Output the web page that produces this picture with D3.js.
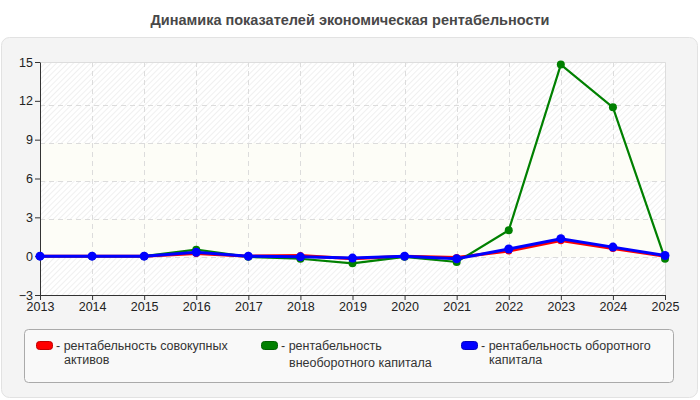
<!DOCTYPE html>
<html>
<head>
<meta charset="utf-8">
<script src="https://cdn.jsdelivr.net/npm/d3@7"></script>
<style>
  body { margin: 0; background: #fff; font-family: "Liberation Sans", Arial, sans-serif; }
  .tick text { font-size: 12.5px; fill: #222; font-family: "Liberation Sans", Arial, sans-serif; }
</style>
</head>
<body>
<div id="chart"></div>
<script>
// data
var years = [2013, 2014, 2015, 2016, 2017, 2018, 2019, 2020, 2021, 2022, 2023, 2024, 2025];
var assetsRent = [0, 0, 0, 0.2, 0, 0.05, -0.2, 0, -0.1, 0.4, 1.2, 0.6, 0];
var fixedCapRent = [0, 0, 0, 0.5, -0.05, -0.2, -0.55, -0.05, -0.45, 2.0, 14.8, 11.5, -0.2];
var workCapRent = [0, 0, 0, 0.3, 0, -0.05, -0.15, 0, -0.2, 0.55, 1.35, 0.7, 0.05];
var yTicks = [-3, 0, 3, 6, 9, 12, 15];
var seriesNames = [
  ["- рентабельность совокупных", "активов"],
  ["- рентабельность", "внеоборотного капитала"],
  ["- рентабельность оборотного", "капитала"]
];
var seriesColors = ["#ff0000", "#008000", "#0000ff"];
var chartTitle = "Динамика показателей экономическая рентабельности";

var series = [assetsRent, fixedCapRent, workCapRent].map(function(vals, i) {
  return {
    name: seriesNames[i],
    color: seriesColors[i],
    values: vals.map(function(v, j) { return {year: years[j], value: v}; })
  };
});

var W = 700, H = 400;
var margin = {top: 62, right: 35, bottom: 105, left: 40},
    width = W - margin.left - margin.right,
    height = H - margin.top - margin.bottom;

var svg = d3.select("#chart").append("svg")
    .attr("width", W)
    .attr("height", H);

// hatch pattern for background
var defs = svg.append("defs");
var pat = defs.append("pattern")
    .attr("id", "hatch")
    .attr("patternUnits", "userSpaceOnUse")
    .attr("width", 4).attr("height", 4)
    .attr("patternTransform", "rotate(45)");
pat.append("rect").attr("width", 4).attr("height", 4).attr("fill", "#ffffff");
pat.append("line").attr("x1", 0).attr("y1", 0).attr("x2", 0).attr("y2", 4)
    .attr("stroke", "#ececec").attr("stroke-width", 1.5);

// title
svg.append("text")
    .attr("x", W / 2).attr("y", 25)
    .attr("text-anchor", "middle")
    .style("font-size", "14.5px").style("font-weight", "bold").style("fill", "#484848")
    .text(chartTitle);

// outer panel
svg.append("rect")
    .attr("x", 1.5).attr("y", 37.5).attr("width", 696).attr("height", 360)
    .attr("rx", 8)
    .attr("fill", "#f4f4f4").attr("stroke", "#e2e2e2");

var g = svg.append("g")
    .attr("transform", "translate(" + margin.left + "," + margin.top + ")");

// scales
var x = d3.scaleLinear().domain(d3.extent(years)).range([0, width]);
var y = d3.scaleLinear().domain([-3, 15]).range([height, 0]);
// grid is drawn on slightly different spacing in the original
var yGrid = d3.scaleLinear().domain([-3, 15]).range([height, 5]);

// plot background: hatched, with plain bands
g.append("rect").attr("width", width).attr("height", height).attr("fill", "url(#hatch)");
var bands = [[0, 3], [6, 9]];
g.selectAll(".band").data(bands).enter().append("rect")
    .attr("class", "band")
    .attr("x", 0).attr("width", width)
    .attr("y", function(d) { return yGrid(d[1]); })
    .attr("height", function(d) { return yGrid(d[0]) - yGrid(d[1]); })
    .attr("fill", "#fdfdf7");

// grid lines
g.selectAll(".hgrid").data([0, 3, 6, 9, 12]).enter().append("line")
    .attr("x1", 0).attr("x2", width)
    .attr("y1", function(d) { return Math.round(yGrid(d)) + 0.5; })
    .attr("y2", function(d) { return Math.round(yGrid(d)) + 0.5; })
    .attr("stroke", "#dcdcdc").attr("stroke-dasharray", "5,4");
g.selectAll(".vgrid").data(years.slice(1, -1)).enter().append("line")
    .attr("y1", 0).attr("y2", height)
    .attr("x1", function(d) { return Math.round(x(d)) + 0.5; })
    .attr("x2", function(d) { return Math.round(x(d)) + 0.5; })
    .attr("stroke", "#dcdcdc").attr("stroke-dasharray", "5,4");

// top / right border
g.append("path")
    .attr("d", "M0,0.5H" + (width + 0.5) + "V" + height)
    .attr("fill", "none").attr("stroke", "#dddddd");

// axes
var xAxis = g.append("g")
    .attr("transform", "translate(0," + height + ")")
    .call(d3.axisBottom(x).tickValues(years).tickFormat(d3.format("d")).tickSize(5).tickSizeOuter(0));
var yAxis = g.append("g")
    .call(d3.axisLeft(y).tickValues(yTicks).tickSize(5).tickSizeOuter(0));
[xAxis, yAxis].forEach(function(a) {
  a.select(".domain").attr("stroke", "#333");
  a.selectAll(".tick line").attr("stroke", "#333");
});
xAxis.selectAll(".tick text").attr("dy", "0.9em").attr("y", 5);
yAxis.selectAll(".tick text").attr("x", -7);

// lines
var line = d3.line()
    .x(function(d) { return x(d.year); })
    .y(function(d) { return y(d.value); });

var widths = [3, 2.2, 3];
var radii = [3.5, 4, 4.5];
series.forEach(function(s, i) {
  g.append("path")
      .datum(s.values)
      .attr("fill", "none")
      .attr("stroke", s.color)
      .attr("stroke-width", widths[i])
      .attr("d", line);
  g.selectAll(".pt" + i).data(s.values).enter().append("circle")
      .attr("cx", function(d) { return x(d.year); })
      .attr("cy", function(d) { return y(d.value); })
      .attr("r", radii[i])
      .attr("fill", s.color);
});

// legend
var legend = svg.append("g");
legend.append("rect")
    .attr("x", 24.5).attr("y", 329.5).attr("width", 649).attr("height", 53)
    .attr("rx", 4)
    .attr("fill", "#f9f9f9").attr("stroke", "#aaaaaa");

var legendX = [36, 261, 461];
var line2Y = [364, 367, 364];
series.forEach(function(s, i) {
  var lg = legend.append("g").attr("transform", "translate(" + legendX[i] + ",0)");
  lg.append("rect")
      .attr("x", 0.5).attr("y", 341.5).attr("width", 16).attr("height", 8)
      .attr("rx", 3)
      .attr("fill", s.color).attr("stroke", d3.color(s.color).darker(0.8));
  var t = lg.append("text")
      .style("font-size", "12.5px").style("fill", "#333");
  t.append("tspan").attr("x", 20).attr("y", 350).text(s.name[0]);
  t.append("tspan").attr("x", 28).attr("y", line2Y[i]).text(s.name[1]);
});
</script>
</body>
</html>
